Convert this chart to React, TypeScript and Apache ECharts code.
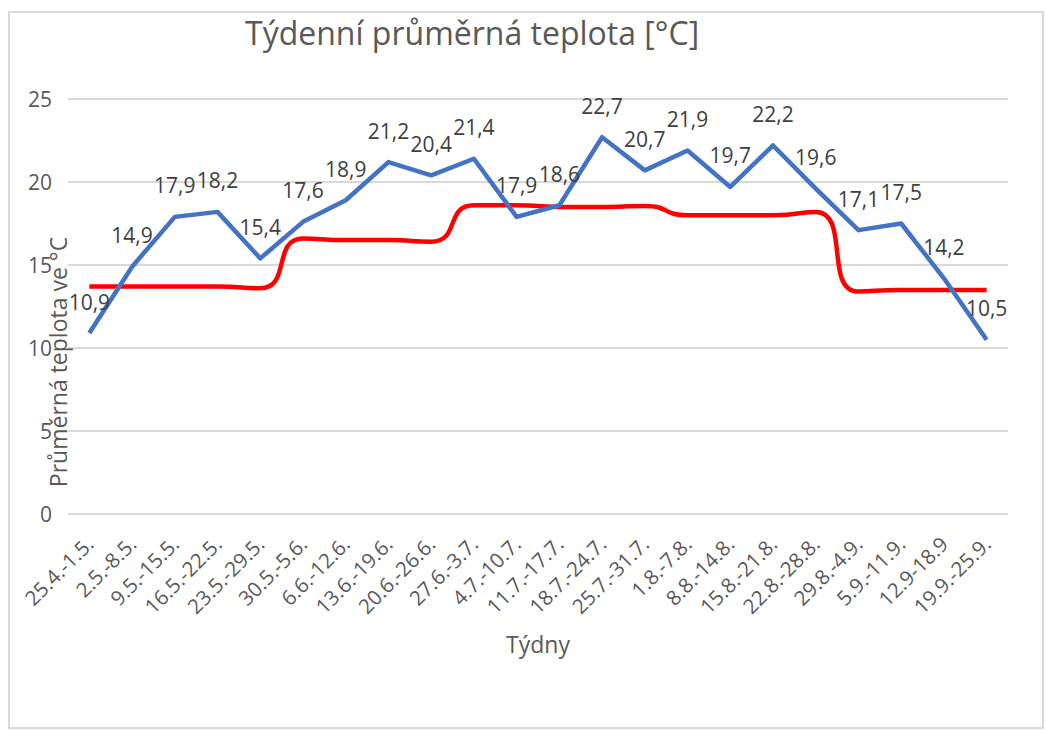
import React, { useEffect, useRef } from "react";
import * as echarts from "echarts";

const categories: string[] = [
  "25.4.-1.5.", "2.5.-8.5.", "9.5.-15.5.", "16.5.-22.5.", "23.5.-29.5.", "30.5.-5.6.",
  "6.6.-12.6.", "13.6.-19.6.", "20.6.-26.6.", "27.6.-3.7.", "4.7.-10.7.", "11.7.-17.7.",
  "18.7.-24.7.", "25.7.-31.7.", "1.8.-7.8.", "8.8.-14.8.", "15.8.-21.8.", "22.8.-28.8.",
  "29.8.-4.9.", "5.9.-11.9.", "12.9-18.9", "19.9.-25.9.",
];

const weeklyTemp: number[] = [
  10.9, 14.9, 17.9, 18.2, 15.4, 17.6, 18.9, 21.2, 20.4, 21.4, 17.9,
  18.6, 22.7, 20.7, 21.9, 19.7, 22.2, 19.6, 17.1, 17.5, 14.2, 10.5,
];

const longTermTemp: number[] = [
  13.7, 13.7, 13.7, 13.7, 13.6, 16.6, 16.5, 16.5, 16.4, 18.6, 18.6,
  18.5, 18.5, 18.55, 18.0, 18.0, 18.0, 18.2, 13.4, 13.5, 13.5, 13.5,
];

const yTicks = { min: 0, max: 25, interval: 5 };

const titleText = "Týdenní průměrná teplota [°C]";
const xName = "Týdny";
const yName = "Průměrná teplota ve °C";

const FONT = "'Open Sans', sans-serif";

export default function App() {
  const ref = useRef<HTMLDivElement>(null);

  useEffect(() => {
    if (!ref.current) return;
    const chart = echarts.init(ref.current, null, { renderer: "svg" });
    chart.setOption({
      animation: false,
      backgroundColor: "#ffffff",
      textStyle: { fontFamily: FONT },
      title: {
        text: titleText,
        left: 245,
        top: 16,
        padding: 0,
        textStyle: { fontFamily: FONT, fontSize: 32, fontWeight: "normal", color: "#595959" },
      },
      graphic: [
        {
          type: "rect",
          z: -10,
          shape: { x: 9, y: 12, width: 1034, height: 716 },
          style: { fill: "none", stroke: "#d9d9d9", lineWidth: 2 },
        },
        {
          type: "text",
          x: 58,
          y: 362,
          rotation: Math.PI / 2,
          z: 10,
          style: {
            text: yName,
            fontFamily: FONT,
            fontSize: 23,
            fill: "#595959",
            align: "center",
            verticalAlign: "middle",
          },
        },
      ],
      grid: { left: 68, right: 38, top: 99, bottom: 217, containLabel: false },
      xAxis: {
        type: "category",
        data: categories,
        boundaryGap: true,
        name: xName,
        nameLocation: "middle",
        nameGap: 118,
        nameTextStyle: { fontFamily: FONT, fontSize: 23, color: "#595959" },
        axisLine: { show: false },
        axisTick: { show: false },
        axisLabel: {
          rotate: 45,
          interval: 0,
          margin: 26,
          fontFamily: FONT,
          fontSize: 20.5,
          color: "#595959",
        },
      },
      yAxis: {
        type: "value",
        min: yTicks.min,
        max: yTicks.max,
        interval: yTicks.interval,
        axisLine: { show: false },
        axisTick: { show: false },
        axisLabel: { margin: 16, fontFamily: FONT, fontSize: 21, color: "#595959" },
        splitLine: { lineStyle: { color: "#d9d9d9", width: 2 } },
      },
      series: [
        {
          name: "Týdenní průměr",
          type: "line",
          data: weeklyTemp,
          showSymbol: true,
          symbol: "circle",
          symbolSize: 0.1,
          lineStyle: { color: "#4472C4", width: 4.5, join: "round" },
          itemStyle: { color: "#4472C4" },
          z: 3,
          label: {
            show: true,
            position: "top",
            distance: 21,
            fontFamily: FONT,
            fontSize: 21,
            color: "#404040",
            formatter: (p: any) => String(p.value).replace(".", ","),
          },
          labelLayout: { hideOverlap: false },
        },
        {
          name: "Dlouhodobý průměr",
          type: "line",
          data: longTermTemp,
          smooth: 0.6,
          showSymbol: false,
          symbol: "none",
          lineStyle: { color: "#FF0000", width: 4.5 },
          itemStyle: { color: "#FF0000" },
          z: 2,
        },
      ],
    });
    return () => chart.dispose();
  }, []);

  return (
    <div
      ref={ref}
      style={{ position: "absolute", left: 0, top: 0, width: 1046, height: 731 }}
    />
  );
}
